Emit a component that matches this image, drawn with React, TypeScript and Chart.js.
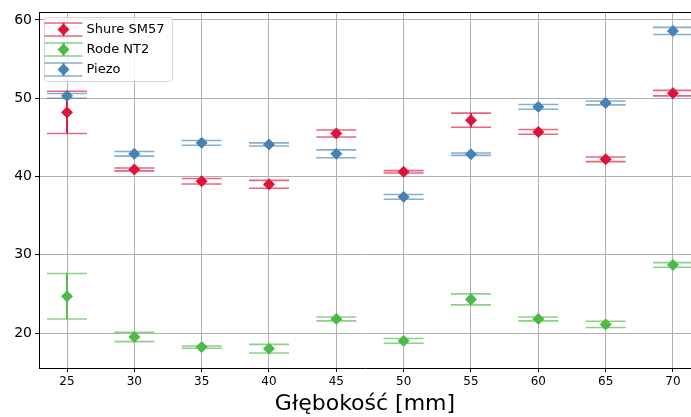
import React, { useEffect, useRef } from 'react';
import { Chart, registerables } from 'chart.js';

Chart.register(...registerables);

const depths = [25, 30, 35, 40, 45, 50, 55, 60, 65, 70];
const xTickValues = [25, 30, 35, 40, 45, 50, 55, 60, 65, 70];
const yTickValues = [20, 30, 40, 50, 60];

const seriesLabels = ['Shure SM57', 'Rode NT2', 'Piezo'];
const seriesColors = ['#DC143C', '#4DBA47', '#4682B4'];

const shureValues = [48.2, 40.9, 39.4, 39.0, 45.5, 40.6, 47.2, 45.7, 42.2, 50.65];
const shureErrors = [2.7, 0.18, 0.35, 0.5, 0.45, 0.15, 0.9, 0.3, 0.3, 0.35];
const rodeValues = [24.7, 19.5, 18.2, 18.0, 21.8, 19.0, 24.3, 21.8, 21.1, 28.7];
const rodeErrors = [2.9, 0.6, 0.15, 0.55, 0.25, 0.3, 0.7, 0.25, 0.4, 0.3];
const piezoValues = [50.3, 42.9, 44.3, 44.1, 42.9, 37.4, 42.85, 48.9, 49.4, 58.6];
const piezoErrors = [0.3, 0.3, 0.3, 0.2, 0.5, 0.3, 0.15, 0.3, 0.25, 0.45];

const FONT = "'DejaVu Sans', sans-serif";

function withAlpha(hex: string, a: number) {
  const r = parseInt(hex.slice(1, 3), 16);
  const g = parseInt(hex.slice(3, 5), 16);
  const b = parseInt(hex.slice(5, 7), 16);
  return `rgba(${r},${g},${b},${a})`;
}

const errorBarPlugin = {
  id: 'errorBars',
  beforeDatasetDraw(chart: any, args: any) {
    const ds = chart.data.datasets[args.index];
    const errs: number[] = ds.errors;
    if (!errs) return;
    const xs = chart.scales.x;
    const ys = chart.scales.y;
    const ctx = chart.ctx as CanvasRenderingContext2D;
    const area = chart.chartArea;
    ctx.save();
    ctx.beginPath();
    ctx.rect(area.left, area.top, area.right - area.left, area.bottom - area.top);
    ctx.clip();
    const capHalf = 20;
    ds.data.forEach((pt: any, i: number) => {
      const px = xs.getPixelForValue(pt.x);
      const yt = ys.getPixelForValue(pt.y + errs[i]);
      const yb = ys.getPixelForValue(pt.y - errs[i]);
      ctx.strokeStyle = ds.errColor;
      ctx.lineWidth = 2;
      ctx.beginPath();
      ctx.moveTo(px, yt);
      ctx.lineTo(px, yb);
      ctx.stroke();
      ctx.strokeStyle = ds.capColor;
      ctx.lineWidth = 1.6;
      ctx.beginPath();
      ctx.moveTo(px - capHalf, yt);
      ctx.lineTo(px + capHalf, yt);
      ctx.moveTo(px - capHalf, yb);
      ctx.lineTo(px + capHalf, yb);
      ctx.stroke();
    });
    ctx.restore();
  },
};

const framePlugin = {
  id: 'frameAndLegend',
  afterDraw(chart: any) {
    const ctx = chart.ctx as CanvasRenderingContext2D;
    const area = chart.chartArea;
    ctx.save();
    ctx.strokeStyle = '#000';
    ctx.lineWidth = 1;
    ctx.beginPath();
    ctx.moveTo(area.left, area.top + 0.5);
    ctx.lineTo(area.right, area.top + 0.5);
    ctx.stroke();

    const bx = area.left + 5.5;
    const by = area.top + 5.5;
    const bw = 128;
    const bh = 64;
    const r = 3;
    ctx.beginPath();
    ctx.moveTo(bx + r, by);
    ctx.lineTo(bx + bw - r, by);
    ctx.arcTo(bx + bw, by, bx + bw, by + r, r);
    ctx.lineTo(bx + bw, by + bh - r);
    ctx.arcTo(bx + bw, by + bh, bx + bw - r, by + bh, r);
    ctx.lineTo(bx + r, by + bh);
    ctx.arcTo(bx, by + bh, bx, by + bh - r, r);
    ctx.lineTo(bx, by + r);
    ctx.arcTo(bx, by, bx + r, by, r);
    ctx.closePath();
    ctx.fillStyle = 'rgba(255,255,255,0.8)';
    ctx.fill();
    ctx.strokeStyle = '#d6d6d6';
    ctx.stroke();

    const datasets = chart.data.datasets;
    datasets.forEach((ds: any, i: number) => {
      const cy = by + 12 + i * 20;
      const cx = bx + 19;
      ctx.strokeStyle = ds.errColor;
      ctx.lineWidth = 2;
      ctx.beginPath();
      ctx.moveTo(cx, cy - 6.5);
      ctx.lineTo(cx, cy + 6.5);
      ctx.stroke();
      ctx.strokeStyle = ds.capColor;
      ctx.lineWidth = 1.6;
      ctx.beginPath();
      ctx.moveTo(cx - 19, cy - 6.5);
      ctx.lineTo(cx + 19, cy - 6.5);
      ctx.moveTo(cx - 19, cy + 6.5);
      ctx.lineTo(cx + 19, cy + 6.5);
      ctx.stroke();
      ctx.fillStyle = ds.backgroundColor;
      ctx.beginPath();
      ctx.moveTo(cx - 6, cy);
      ctx.lineTo(cx, cy - 6);
      ctx.lineTo(cx + 6, cy);
      ctx.lineTo(cx, cy + 6);
      ctx.closePath();
      ctx.fill();
      ctx.fillStyle = '#000';
      ctx.font = `13px ${FONT}`;
      ctx.textBaseline = 'middle';
      ctx.textAlign = 'left';
      ctx.fillText(ds.label, bx + 42, cy);
    });
    ctx.restore();
  },
};

export default function App() {
  const canvasRef = useRef<HTMLCanvasElement | null>(null);

  useEffect(() => {
    document.body.style.margin = '0';
    const canvas = canvasRef.current;
    if (!canvas) return;
    const values = [shureValues, rodeValues, piezoValues];
    const errors = [shureErrors, rodeErrors, piezoErrors];
    const datasets = seriesLabels.map((label, s) => ({
      label,
      data: depths.map((d, i) => ({ x: d, y: values[s][i] })),
      errors: errors[s],
      errColor: withAlpha(seriesColors[s], 0.95),
      capColor: withAlpha(seriesColors[s], 0.65),
      backgroundColor: seriesColors[s],
      borderColor: seriesColors[s],
      showLine: false,
      pointStyle: 'rectRot',
      pointRadius: 5.5,
      pointBorderWidth: 1,
      order: 3 - s,
    }));

    const chart = new Chart(canvas, {
      type: 'scatter',
      data: { datasets: datasets as any },
      plugins: [errorBarPlugin, framePlugin],
      options: {
        animation: false,
        responsive: false,
        layout: { autoPadding: false, padding: { top: 12, left: 0, right: 0, bottom: 0 } },
        plugins: {
          legend: { display: false },
          tooltip: { enabled: false },
        },
        scales: {
          x: {
            type: 'linear',
            min: 22.92,
            max: 71.34,
            afterBuildTicks: (scale: any) => {
              scale.ticks = xTickValues.map((v) => ({ value: v }));
            },
            afterFit: (scale: any) => {
              scale.height = 49;
              scale.paddingLeft = 0;
              scale.paddingRight = 0;
            },
            grid: {
              color: '#b0b0b0',
              lineWidth: 1,
              tickColor: '#000',
              tickLength: 4,
            },
            border: { display: true, color: '#000', width: 1 },
            ticks: {
              color: '#000',
              font: { family: FONT, size: 12 },
              padding: 3,
              maxRotation: 0,
              autoSkip: false,
            },
            title: {
              display: true,
              text: 'Głębokość [mm]',
              color: '#000',
              font: { family: FONT, size: 22 },
              padding: { top: 0, bottom: 0 },
            },
          },
          y: {
            type: 'linear',
            min: 15.53,
            max: 61.02,
            afterBuildTicks: (scale: any) => {
              scale.ticks = yTickValues.map((v) => ({ value: v }));
            },
            afterFit: (scale: any) => {
              scale.width = 39;
              scale.paddingTop = 0;
              scale.paddingBottom = 0;
            },
            grid: {
              color: '#b0b0b0',
              lineWidth: 1,
              tickColor: '#000',
              tickLength: 4,
            },
            border: { display: true, color: '#000', width: 1 },
            ticks: {
              color: '#000',
              font: { family: FONT, size: 14 },
              padding: 3,
            },
          },
        },
      } as any,
    });
    return () => chart.destroy();
  }, []);

  return (
    <div style={{ width: 691, height: 417, overflow: 'hidden' }}>
      <canvas ref={canvasRef} width={691} height={417} style={{ display: 'block' }} />
    </div>
  );
}
